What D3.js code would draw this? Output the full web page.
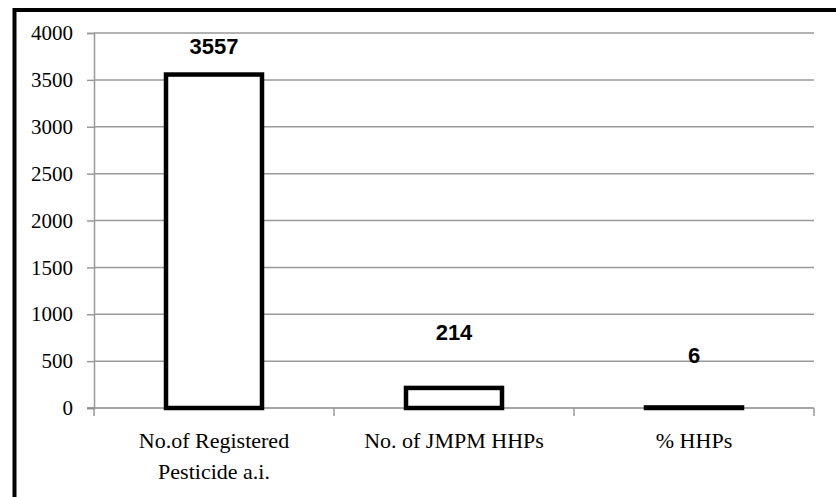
<!DOCTYPE html>
<html>
<head>
<meta charset="utf-8">
<script src="https://cdn.jsdelivr.net/npm/d3@7/dist/d3.min.js"></script>
</head>
<body style="margin:0;padding:0;background:#fff">
<svg id="chart" width="836" height="497" style="display:block"></svg>
<script>
const categories = [["No.of Registered", "Pesticide a.i."], ["No. of JMPM HHPs"], ["% HHPs"]];
const values = [3557, 214, 6];
const yTicks = [0, 500, 1000, 1500, 2000, 2500, 3000, 3500, 4000];
// how far each data label sits above its bar (hand placed in the original)
const labelLift = [21, 48, 44];

const SERIF = "Times New Roman";
const svg = d3.select("#chart");
const plot = { left: 94, right: 814, top: 33, bottom: 408 };

const x = d3.scaleBand()
  .domain(d3.range(values.length))
  .range([plot.left, plot.right])
  .paddingInner(0.6)
  .paddingOuter(0.3);
const band = d3.scaleBand().domain(d3.range(values.length)).range([plot.left, plot.right]);
const y = d3.scaleLinear().domain([0, 4000]).range([plot.bottom, plot.top]);

// frame (only left and top edges show)
svg.append("path")
  .attr("d", `M14.5,497 V10 H836`)
  .attr("fill", "none")
  .attr("stroke", "#000")
  .attr("stroke-width", 4);

// gridlines
svg.append("g")
  .selectAll("line")
  .data(yTicks.filter((d) => d > 0))
  .join("line")
  .attr("x1", plot.left)
  .attr("x2", plot.right)
  .attr("y1", (d) => y(d))
  .attr("y2", (d) => y(d))
  .attr("stroke", "#999")
  .attr("stroke-width", 1.5);

// y axis
const yAxis = svg.append("g")
  .attr("transform", `translate(${plot.left},0)`)
  .call(d3.axisLeft(y).tickValues(yTicks).tickSize(7).tickPadding(14).tickFormat(d3.format("d")));
yAxis.attr("font-family", SERIF).attr("font-size", 21);
yAxis.select(".domain").attr("stroke", "#999").attr("stroke-width", 1.5);
yAxis.selectAll(".tick line").attr("stroke", "#999").attr("stroke-width", 1.5);
yAxis.selectAll(".tick text").attr("fill", "#000").attr("font-family", SERIF);

// x axis
const xAxis = svg.append("g").attr("transform", `translate(0,${plot.bottom})`);
xAxis.append("line")
  .attr("x1", plot.left - 7)
  .attr("x2", plot.right)
  .attr("stroke", "#888")
  .attr("stroke-width", 1.5);
xAxis.selectAll(".xtick")
  .data(d3.range(values.length + 1))
  .join("line")
  .attr("x1", (i) => (i < values.length ? band(i) : plot.right))
  .attr("x2", (i) => (i < values.length ? band(i) : plot.right))
  .attr("y1", 0)
  .attr("y2", 8)
  .attr("stroke", "#999")
  .attr("stroke-width", 1.5);

const catText = svg.append("g")
  .attr("font-family", SERIF)
  .attr("font-size", 22)
  .selectAll("text")
  .data(categories)
  .join("text")
  .attr("font-family", SERIF)
  .attr("x", (d, i) => band(i) + band.bandwidth() / 2)
  .attr("y", 448)
  .attr("text-anchor", "middle")
  .attr("fill", "#000");
catText.selectAll("tspan")
  .data((d) => d)
  .join("tspan")
  .attr("x", function () { return d3.select(this.parentNode).attr("x"); })
  .attr("dy", (d, i) => (i === 0 ? 0 : 31))
  .text((d) => d);

// bars
svg.append("g")
  .selectAll("rect")
  .data(values)
  .join("rect")
  .attr("x", (d, i) => x(i))
  .attr("width", x.bandwidth())
  .attr("y", (d) => y(d))
  .attr("height", (d) => plot.bottom - y(d))
  .attr("fill", "#fff")
  .attr("stroke", "#000")
  .attr("stroke-width", 4.5);

// data labels
svg.append("g")
  .attr("font-family", "Liberation Sans")
  .attr("font-weight", "bold")
  .attr("font-size", 22)
  .selectAll("text")
  .data(values)
  .join("text")
  .attr("x", (d, i) => x(i) + x.bandwidth() / 2)
  .attr("y", (d, i) => y(d) - labelLift[i])
  .attr("text-anchor", "middle")
  .attr("fill", "#000")
  .text((d) => d);
</script>
</body>
</html>
